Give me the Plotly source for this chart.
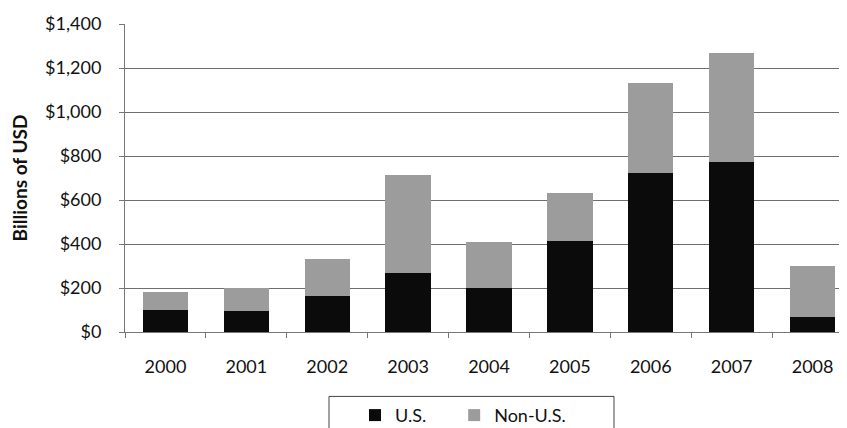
import plotly.graph_objects as go

years = ["2000", "2001", "2002", "2003", "2004", "2005", "2006", "2007", "2008"]
us_values = [100, 97, 163, 268, 202, 413, 721, 774, 68]
non_us_values = [82, 105, 171, 444, 207, 220, 409, 496, 231]
y_tick_vals = [0, 200, 400, 600, 800, 1000, 1200, 1400]
y_tick_text = ["$0", "$200", "$400", "$600", "$800", "$1,000", "$1,200", "$1,400"]

FONT = "Lato, Open Sans, sans-serif"

W, H = 847, 428
ML, MR, MT, MB = 117, 2, 16, 94
PW, PH = W - ML - MR, H - MT - MB


def px_x(p):
    return (p - ML) / PW


def px_y(p):
    return (H - MB - p) / PH


fig = go.Figure()
fig.add_trace(go.Bar(x=years, y=us_values, name="U.S." + "\u00a0" * 5,
                     marker=dict(color="#0b0b0b", line=dict(width=0))))
fig.add_trace(go.Bar(x=years, y=non_us_values, name="Non-U.S.",
                     marker=dict(color="#9c9c9c", line=dict(width=0))))

# legend frame
fig.add_shape(type="rect", xref="paper", yref="paper",
              x0=px_x(321), x1=px_x(606), y0=px_y(440), y1=px_y(400.5),
              line=dict(color="#444", width=1), fillcolor="rgba(0,0,0,0)", layer="above")

fig.update_layout(
    width=W, height=H,
    barmode="stack", bargap=0.44,
    paper_bgcolor="white", plot_bgcolor="white",
    margin=dict(l=ML, r=MR, t=MT, b=MB),
    font=dict(family=FONT, size=18, color="#111"),
    legend=dict(orientation="h", x=px_x(347), xanchor="left", y=px_y(401), yanchor="top",
                borderwidth=0, traceorder="normal", bgcolor="rgba(0,0,0,0)",
                font=dict(size=18), itemwidth=30),
    xaxis=dict(showline=True, linecolor="#777", linewidth=1,
               ticks="outside", tickson="boundaries", ticklen=5, tickcolor="#777",
               tickfont=dict(size=18), showgrid=False, ticklabelstandoff=18),
    yaxis=dict(range=[0, 1400], tickvals=y_tick_vals, ticktext=y_tick_text,
               showline=True, linecolor="#777", linewidth=1,
               ticks="outside", ticklen=5, tickcolor="#777",
               showgrid=True, gridcolor="#6e6e6e", gridwidth=1,
               tickfont=dict(size=18), ticklabelstandoff=14,
               title=dict(text="<b>Billions of USD</b>", font=dict(size=19), standoff=12)),
)

fig.write_html("out.html")
